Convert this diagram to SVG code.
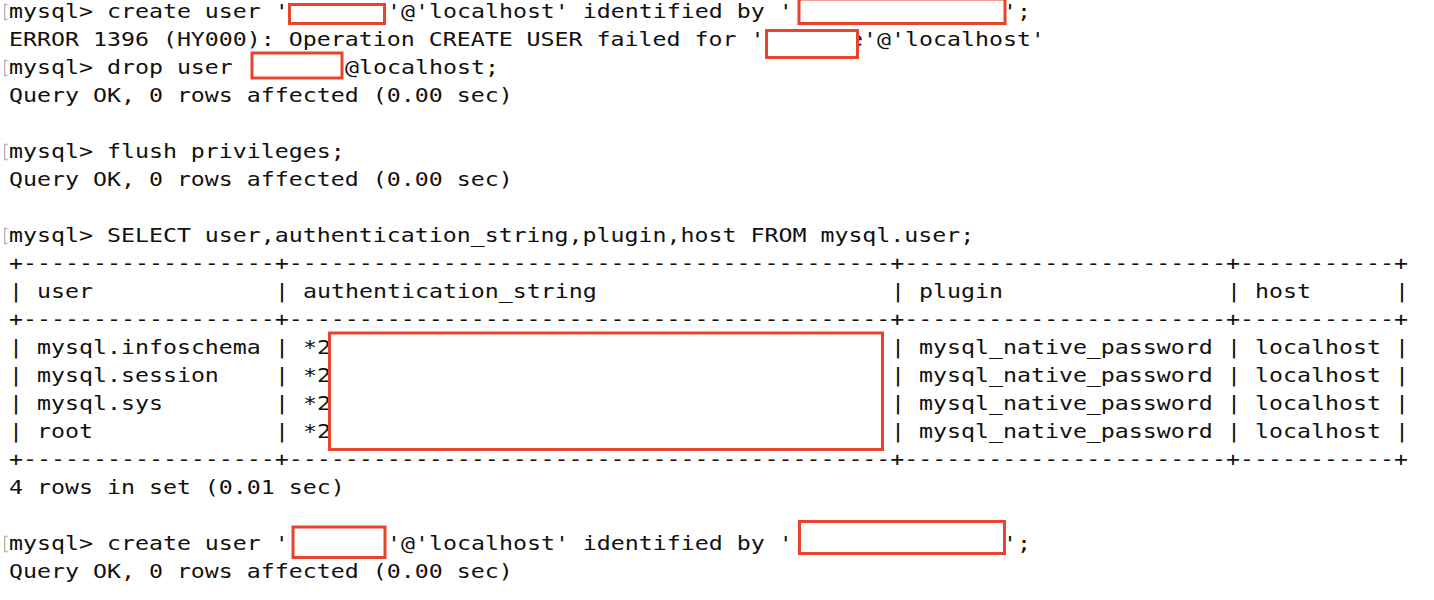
<svg xmlns="http://www.w3.org/2000/svg" width="1434" height="600" viewBox="0 0 1434 600">
<style>
.t{font-family:"DejaVu Sans Mono","Liberation Mono",monospace;font-size:20px;fill:#111;white-space:pre}
.box{fill:#fff;stroke:#e8432d;stroke-width:3}
.br{fill:none;stroke:#b4b4b4;stroke-width:1.3}
</style>
<rect width="1434" height="600" fill="#fff"/>
<g id="markers">
<path class="br" d="M7.5,4.5H4.6V19.5H7.5"/>
<path class="br" d="M7.5,60.5H4.6V75.5H7.5"/>
<path class="br" d="M7.5,144.5H4.6V159.5H7.5"/>
<path class="br" d="M7.5,228.5H4.6V243.5H7.5"/>
<path class="br" d="M7.5,536.5H4.6V551.5H7.5"/>
</g>
<g id="terminal" transform="matrix(1.1627 0 0 1 9 0)" xml:space="preserve">
<text class="t" x="0" y="18">mysql&gt; create user '</text>
<text class="t" x="313.07" y="18">e'@'localhost' identified by '</text>
<text class="t" x="854.91" y="18">';</text>
<text class="t" x="0" y="46">ERROR 1396 (HY000): Operation CREATE USER failed for '</text>
<text class="t" x="722.46" y="46">e'@'localhost'</text>
<text class="t" x="0" y="74">mysql&gt; drop user</text>
<text class="t" x="288.98" y="74">@localhost;</text>
<text class="t" x="0" y="102">Query OK, 0 rows affected (0.00 sec)</text>
<text class="t" x="0" y="158">mysql&gt; flush privileges;</text>
<text class="t" x="0" y="186">Query OK, 0 rows affected (0.00 sec)</text>
<text class="t" x="0" y="242">mysql&gt; SELECT user,authentication_string,plugin,host FROM mysql.user;</text>
<g id="table">
<text class="t" x="0" y="270">+------------------+-------------------------------------------+-----------------------+-----------+</text>
<text class="t" x="0" y="298">|</text><text class="t" x="24.08" y="298">user</text><text class="t" x="228.78" y="298">|</text><text class="t" x="252.86" y="298">authentication_string</text><text class="t" x="758.58" y="298">|</text><text class="t" x="782.67" y="298">plugin</text><text class="t" x="1047.57" y="298">|</text><text class="t" x="1071.65" y="298">host</text><text class="t" x="1192.06" y="298">|</text>
<text class="t" x="0" y="326">+------------------+-------------------------------------------+-----------------------+-----------+</text>
<text class="t" x="0" y="354">|</text><text class="t" x="24.08" y="354">mysql.infoschema</text><text class="t" x="228.78" y="354">|</text><text class="t" x="252.86" y="354">*2</text><text class="t" x="758.58" y="354">|</text><text class="t" x="782.67" y="354">mysql_native_password</text><text class="t" x="1047.57" y="354">|</text><text class="t" x="1071.65" y="354">localhost</text><text class="t" x="1192.06" y="354">|</text>
<text class="t" x="0" y="382">|</text><text class="t" x="24.08" y="382">mysql.session</text><text class="t" x="228.78" y="382">|</text><text class="t" x="252.86" y="382">*2</text><text class="t" x="758.58" y="382">|</text><text class="t" x="782.67" y="382">mysql_native_password</text><text class="t" x="1047.57" y="382">|</text><text class="t" x="1071.65" y="382">localhost</text><text class="t" x="1192.06" y="382">|</text>
<text class="t" x="0" y="410">|</text><text class="t" x="24.08" y="410">mysql.sys</text><text class="t" x="228.78" y="410">|</text><text class="t" x="252.86" y="410">*2</text><text class="t" x="758.58" y="410">|</text><text class="t" x="782.67" y="410">mysql_native_password</text><text class="t" x="1047.57" y="410">|</text><text class="t" x="1071.65" y="410">localhost</text><text class="t" x="1192.06" y="410">|</text>
<text class="t" x="0" y="438">|</text><text class="t" x="24.08" y="438">root</text><text class="t" x="228.78" y="438">|</text><text class="t" x="252.86" y="438">*2</text><text class="t" x="758.58" y="438">|</text><text class="t" x="782.67" y="438">mysql_native_password</text><text class="t" x="1047.57" y="438">|</text><text class="t" x="1071.65" y="438">localhost</text><text class="t" x="1192.06" y="438">|</text>
<text class="t" x="0" y="466">+------------------+-------------------------------------------+-----------------------+-----------+</text>
</g>
<text class="t" x="0" y="494">4 rows in set (0.01 sec)</text>
<text class="t" x="0" y="550">mysql&gt; create user '</text>
<text class="t" x="325.11" y="550">'@'localhost' identified by '</text>
<text class="t" x="854.91" y="550">';</text>
<text class="t" x="0" y="578">Query OK, 0 rows affected (0.00 sec)</text>
</g>
<g id="redactions">
<rect class="box" x="289.5" y="4.5" width="95" height="19"/>
<rect class="box" x="799" y="-1" width="206" height="24.5"/>
<rect class="box" x="766.5" y="30.5" width="91" height="27"/>
<rect class="box" x="252" y="53" width="90" height="25"/>
<rect class="box" x="329.5" y="333" width="553" height="116.5"/>
<rect class="box" x="293" y="527" width="92" height="30.5"/>
<rect class="box" x="799.5" y="521.5" width="205" height="32"/>
</g>
</svg>
